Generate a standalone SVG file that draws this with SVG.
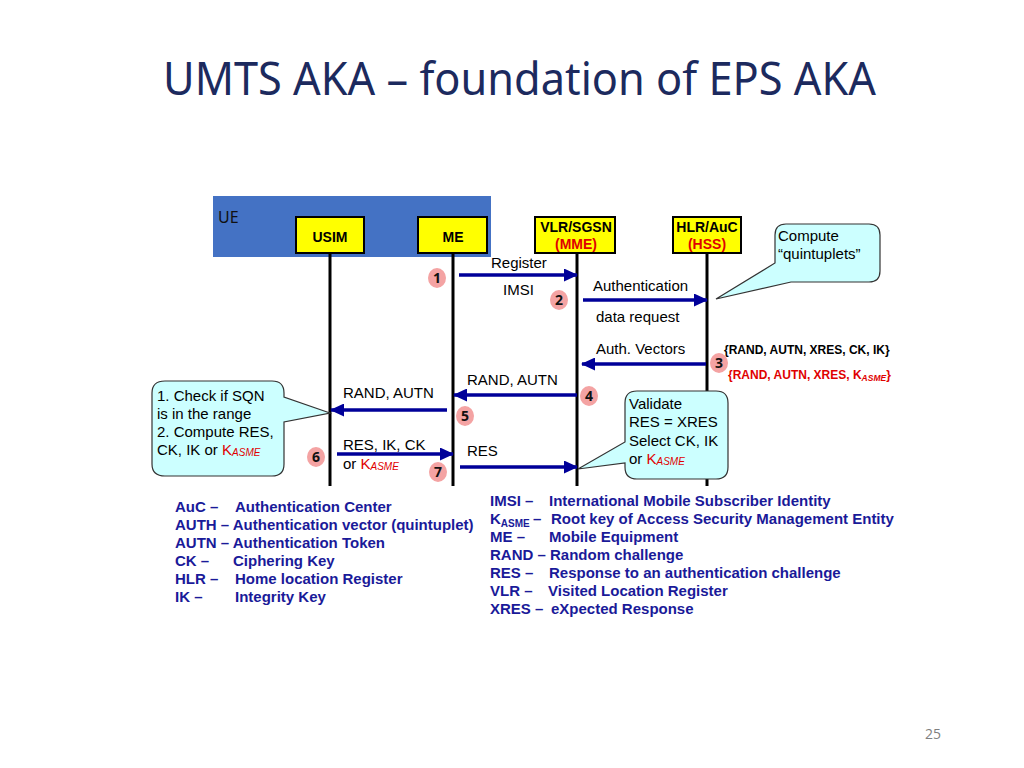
<svg xmlns="http://www.w3.org/2000/svg" width="1024" height="768" viewBox="0 0 1024 768">
<style>
text{font-family:"Liberation Sans",Arial,sans-serif;font-size:15px;fill:#000}
.title{font-family:"Noto Sans","Open Sans",sans-serif;font-size:46px;fill:#1c2a5e}
.ent{font-weight:bold;font-size:14px;text-anchor:middle}
.red{fill:#e00000}
.box{fill:#ffff00;stroke:#000;stroke-width:2}
.life{stroke:#000;stroke-width:3}
.msg{stroke:#000099;stroke-width:3.5;fill:none;marker-end:url(#ah)}
.badge ellipse{fill:#f4a3a3}
.badge text{font-family:"Open Sans","Noto Sans",sans-serif;font-weight:bold;font-size:14px;text-anchor:middle;fill:#111}
.call{fill:#ccffff;stroke:#333;stroke-width:1.2}
.leg{font-weight:bold;fill:#1a1a99}
.sub{font-size:10px;font-style:italic}
.bsub{font-size:10px}
</style>
<defs>
<marker id="ah" markerUnits="userSpaceOnUse" markerWidth="14" markerHeight="13" refX="13" refY="6.5" orient="auto">
<path d="M0,0 L14,6.5 L0,13 Z" fill="#000099"/>
</marker>
</defs>
<rect width="1024" height="768" fill="#fff"/>
<text class="title" x="163" y="95" textLength="713" lengthAdjust="spacingAndGlyphs">UMTS AKA – foundation of EPS AKA</text>

<g id="UE">
<rect x="213" y="196" width="278" height="61" fill="#4472c4"/>
<text x="218" y="223" style="font-family:'Noto Sans',sans-serif;font-size:16px;fill:#111">UE</text>
</g>
<g id="USIM">
<rect class="box" x="296" y="217" width="68" height="36"/>
<text class="ent" x="330" y="242">USIM</text>
<line class="life" x1="330" y1="253" x2="330" y2="486"/>
</g>
<g id="ME">
<rect class="box" x="418" y="217" width="69" height="36"/>
<text class="ent" x="453" y="242">ME</text>
<line class="life" x1="453" y1="253" x2="453" y2="486"/>
</g>
<g id="VLR">
<rect class="box" x="535" y="217" width="80" height="36"/>
<text class="ent" x="576" y="232">VLR/SGSN</text>
<text class="ent red" x="576" y="249">(MME)</text>
<line class="life" x1="577" y1="253" x2="577" y2="486"/>
</g>
<g id="HLR">
<rect class="box" x="673" y="217" width="68" height="36"/>
<text class="ent" x="707" y="232">HLR/AuC</text>
<text class="ent red" x="707" y="249">(HSS)</text>
<line class="life" x1="707" y1="253" x2="707" y2="486"/>
</g>

<g id="connectors">
<line class="msg" x1="459" y1="275" x2="577" y2="275"/>
<line class="msg" x1="583" y1="300" x2="707" y2="300"/>
<line class="msg" x1="706" y1="364" x2="582" y2="364"/>
<line class="msg" x1="577" y1="395" x2="454" y2="395"/>
<line class="msg" x1="447" y1="410" x2="331" y2="410"/>
<line class="msg" x1="337" y1="454" x2="453" y2="454"/>
<line class="msg" x1="460" y1="467" x2="577" y2="467"/>
</g>

<g id="labels">
<text x="491" y="268">Register</text>
<text x="503" y="295">IMSI</text>
<text x="593" y="291">Authentication</text>
<text x="596" y="322">data request</text>
<text x="596" y="354">Auth. Vectors</text>
<text x="724" y="354" style="font-weight:bold;font-size:12px">{RAND, AUTN, XRES, CK, IK}</text>
<text x="728" y="379" class="red" style="font-weight:bold;font-size:12px">{RAND, AUTN, XRES, K<tspan style="font-size:8.5px;font-style:italic" dy="2">ASME</tspan><tspan dy="-2">}</tspan></text>
<text x="467" y="385">RAND, AUTN</text>
<text x="343" y="398">RAND, AUTN</text>
<text x="343" y="450">RES, IK, CK</text>
<text x="343" y="469">or <tspan class="red">K</tspan><tspan class="red sub" dy="1">ASME</tspan></text>
<text x="467" y="456">RES</text>
</g>

<g id="badges">
<g class="badge"><ellipse cx="437" cy="278" rx="9" ry="10"/><text x="437" y="283">1</text></g>
<g class="badge"><ellipse cx="559" cy="300" rx="9" ry="10"/><text x="559" y="305">2</text></g>
<g class="badge"><ellipse cx="719" cy="363" rx="9" ry="10"/><text x="719" y="368">3</text></g>
<g class="badge"><ellipse cx="589" cy="396" rx="9" ry="10"/><text x="589" y="401">4</text></g>
<g class="badge"><ellipse cx="465" cy="416" rx="9" ry="10"/><text x="465" y="421">5</text></g>
<g class="badge"><ellipse cx="316" cy="457" rx="9" ry="10"/><text x="316" y="462">6</text></g>
<g class="badge"><ellipse cx="438" cy="472" rx="9" ry="10"/><text x="438" y="477">7</text></g>
</g>

<g id="callout-compute">
<path class="call" d="M786,224 H869 Q880,224 880,235 V271 Q880,282 869,282 H791 L716,299 L775,263 V235 Q775,224 786,224 Z"/>
<text x="778" y="241">Compute</text>
<text x="778" y="259">“quintuplets”</text>
</g>
<g id="callout-ue">
<path class="call" d="M165,381 H272 Q284,381 284,393 V397 L330,413 L284,422 V464 Q284,476 272,476 H165 Q152,476 152,464 V393 Q152,381 165,381 Z"/>
<text x="157" y="401">1. Check if SQN</text>
<text x="157" y="419">is in the range</text>
<text x="157" y="437">2. Compute RES,</text>
<text x="157" y="455">CK, IK or <tspan class="red">K</tspan><tspan class="red sub" dy="1">ASME</tspan></text>
</g>
<g id="callout-vlr">
<path class="call" d="M637,391 H716 Q728,391 728,403 V467 Q728,479 716,479 H637 Q625,479 625,467 V463 L578,469 L625,442 V403 Q625,391 637,391 Z"/>
<text x="629" y="409">Validate</text>
<text x="629" y="427">RES = XRES</text>
<text x="629" y="446">Select CK, IK</text>
<text x="629" y="464">or <tspan class="red">K</tspan><tspan class="red sub" dy="1">ASME</tspan></text>
</g>

<g id="legend-left" class="leg">
<text class="leg" x="175" y="512">AuC –</text><text class="leg" x="235" y="512">Authentication Center</text>
<text class="leg" x="175" y="530">AUTH – Authentication vector (quintuplet)</text>
<text class="leg" x="175" y="548">AUTN – Authentication Token</text>
<text class="leg" x="175" y="566">CK –</text><text class="leg" x="233" y="566">Ciphering Key</text>
<text class="leg" x="175" y="584">HLR –</text><text class="leg" x="235" y="584">Home location Register</text>
<text class="leg" x="175" y="602">IK –</text><text class="leg" x="235" y="602">Integrity Key</text>
</g>
<g id="legend-right" class="leg">
<text class="leg" x="490" y="506">IMSI –</text><text class="leg" x="549" y="506">International Mobile Subscriber Identity</text>
<text class="leg" x="490" y="524">K<tspan class="bsub" dy="3">ASME</tspan></text><text class="leg" x="533" y="524">–</text><text class="leg" x="551" y="524">Root key of Access Security Management Entity</text>
<text class="leg" x="490" y="542">ME –</text><text class="leg" x="549" y="542">Mobile Equipment</text>
<text class="leg" x="490" y="560">RAND – Random challenge</text>
<text class="leg" x="490" y="578">RES –</text><text class="leg" x="549" y="578">Response to an authentication challenge</text>
<text class="leg" x="490" y="596">VLR –</text><text class="leg" x="548" y="596">Visited Location Register</text>
<text class="leg" x="490" y="614">XRES –</text><text class="leg" x="551" y="614">eXpected Response</text>
</g>

<text x="925" y="739" style="font-family:'Open Sans','Noto Sans',sans-serif;font-size:14px;fill:#7f7f7f">25</text>
</svg>
